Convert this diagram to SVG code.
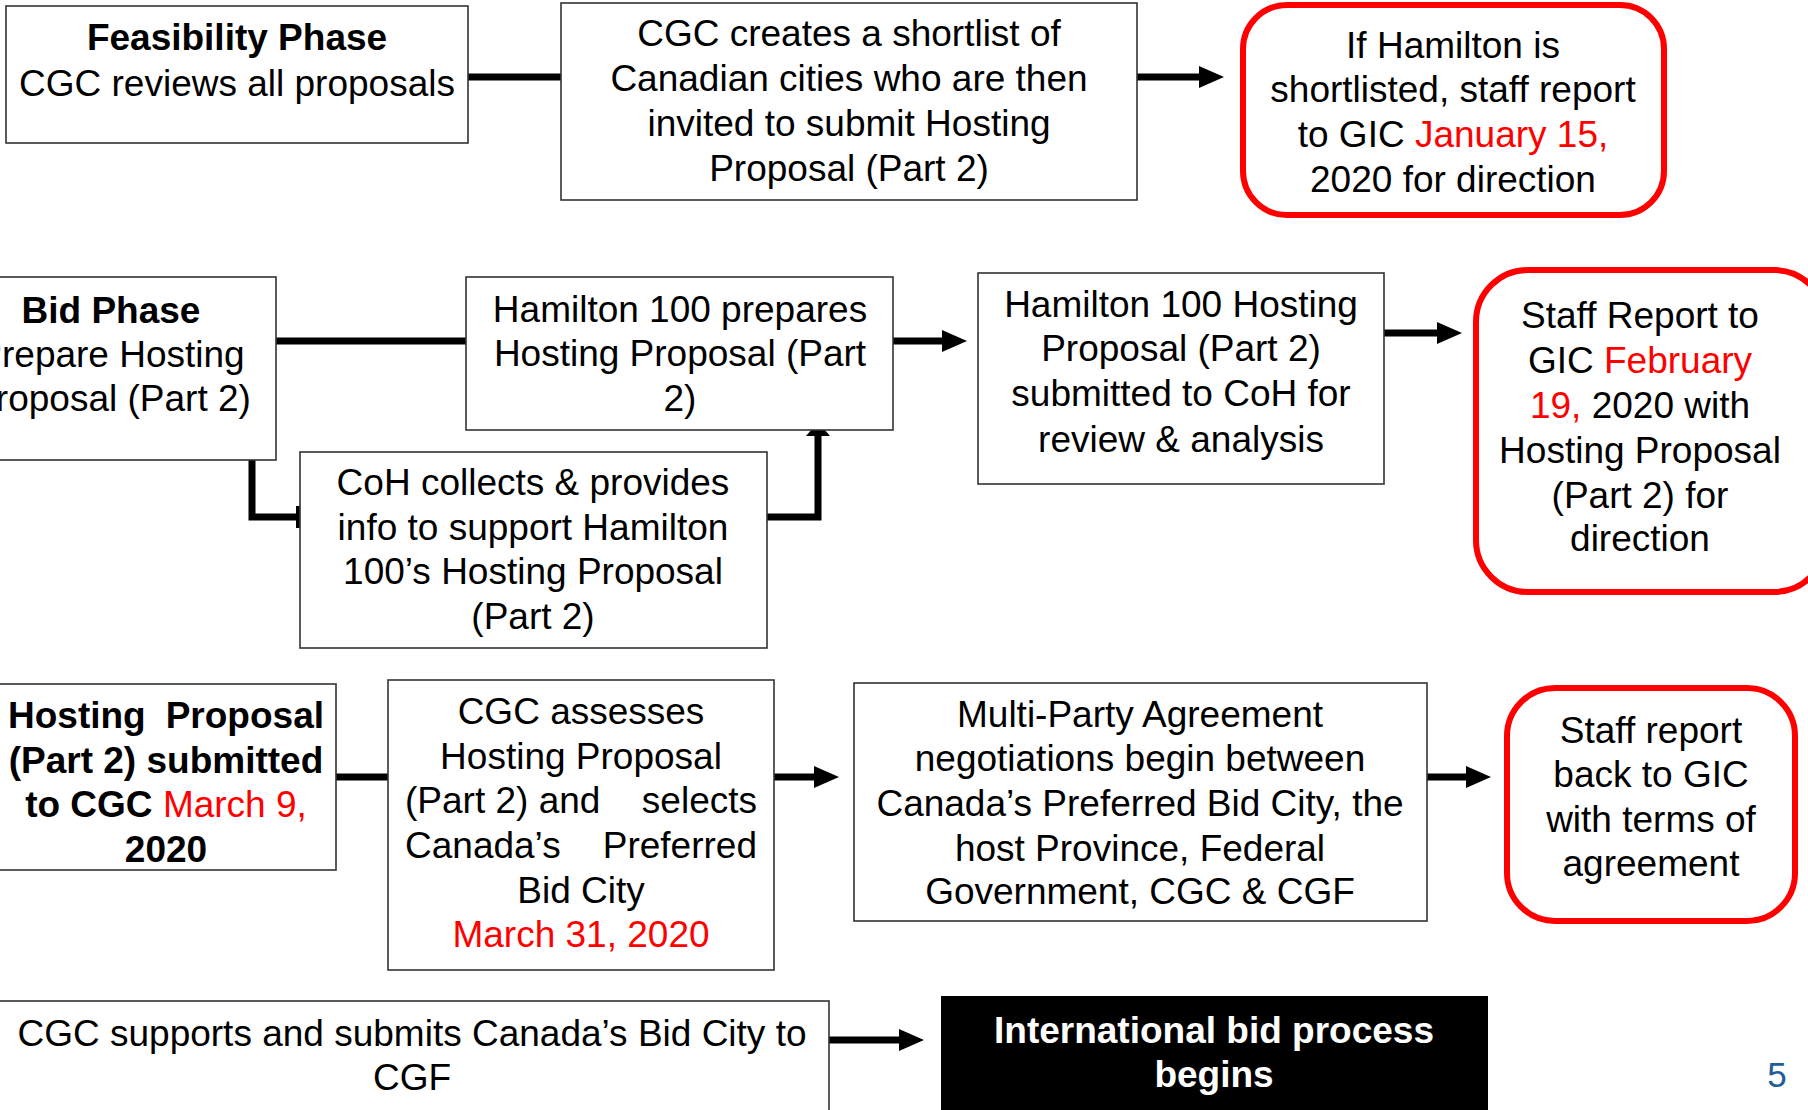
<svg xmlns="http://www.w3.org/2000/svg" width="1808" height="1110" viewBox="0 0 1808 1110">
<style>
.box{fill:#fff;stroke:#333;stroke-width:1.6}
.rbox{fill:#fff;stroke:#ff0000;stroke-width:6}
.blk{fill:#000;stroke:none}
text{font-family:"Liberation Sans",Arial,sans-serif;font-size:37px;fill:#000;text-anchor:middle}
.b{font-weight:bold}
.n{font-weight:normal}
.red{fill:#ff0000}
.w{fill:#fff}
.wire{fill:none;stroke:#000;stroke-width:7}
.stub{fill:#000}
</style>
<defs>
<marker id="ah" markerUnits="userSpaceOnUse" markerWidth="26" markerHeight="24" refX="1" refY="12" orient="auto">
<path d="M0,1 L25,12 L0,23 z" fill="#000"/>
</marker>
</defs>
<rect width="1808" height="1110" fill="#fff"/>

<g id="connectors">
<line class="wire" x1="468" y1="77" x2="561" y2="77"/>
<line class="wire" x1="1137" y1="77" x2="1200" y2="77" marker-end="url(#ah)"/>
<line class="wire" x1="276" y1="341" x2="466" y2="341"/>
<line class="wire" x1="893" y1="341" x2="943" y2="341" marker-end="url(#ah)"/>
<line class="wire" x1="1384" y1="333" x2="1438" y2="333" marker-end="url(#ah)"/>
<polyline class="wire" points="252,460 252,517 298,517"/>
<polygon class="stub" points="296,506 300,506 300,528 296,528"/>
<polyline class="wire" points="767,517 818,517 818,434"/>
<polygon class="stub" points="806,436 830,436 824,429 812,429"/>
<line class="wire" x1="336" y1="777" x2="388" y2="777"/>
<line class="wire" x1="774" y1="777" x2="815" y2="777" marker-end="url(#ah)"/>
<line class="wire" x1="1427" y1="777" x2="1467" y2="777" marker-end="url(#ah)"/>
<line class="wire" x1="829" y1="1040" x2="900" y2="1040" marker-end="url(#ah)"/>
</g>

<g id="feasibility">
<rect class="box" x="6" y="6" width="462" height="137"/>
<text class="b" x="237" y="50">Feasibility Phase</text>
<text x="237" y="96">CGC reviews all proposals</text>
</g>

<g id="shortlist">
<rect class="box" x="561" y="3" width="576" height="197"/>
<text x="849" y="46">CGC creates a shortlist of</text>
<text x="849" y="91">Canadian cities who are then</text>
<text x="849" y="136">invited to submit Hosting</text>
<text x="849" y="181">Proposal (Part 2)</text>
</g>

<g id="gic-jan">
<rect class="rbox" x="1243" y="5" width="421" height="210" rx="44"/>
<text x="1453" y="58">If Hamilton is</text>
<text x="1453" y="102">shortlisted, staff report</text>
<text x="1453" y="147">to GIC <tspan class="red">January 15,</tspan></text>
<text x="1453" y="192">2020 for direction</text>
</g>

<g id="bid-phase">
<rect class="box" x="-10" y="277" width="286" height="183"/>
<text class="b" x="111" y="323">Bid Phase</text>
<text x="111" y="367">Prepare Hosting</text>
<text x="111" y="411">Proposal (Part 2)</text>
</g>

<g id="h100-prepares">
<rect class="box" x="466" y="277" width="427" height="153"/>
<text x="680" y="322">Hamilton 100 prepares</text>
<text x="680" y="366">Hosting Proposal (Part</text>
<text x="680" y="411">2)</text>
</g>

<g id="h100-submitted">
<rect class="box" x="978" y="273" width="406" height="211"/>
<text x="1181" y="317">Hamilton 100 Hosting</text>
<text x="1181" y="361">Proposal (Part 2)</text>
<text x="1181" y="406">submitted to CoH for</text>
<text x="1181" y="452">review &amp; analysis</text>
</g>

<g id="gic-feb">
<rect class="rbox" x="1476" y="270" width="350" height="322" rx="52"/>
<text x="1640" y="328">Staff Report to</text>
<text x="1640" y="373">GIC <tspan class="red">February</tspan></text>
<text x="1640" y="418"><tspan class="red">19,</tspan> 2020 with</text>
<text x="1640" y="463">Hosting Proposal</text>
<text x="1640" y="508">(Part 2) for</text>
<text x="1640" y="551">direction</text>
</g>

<g id="coh-collects">
<rect class="box" x="300" y="452" width="467" height="196"/>
<text x="533" y="495">CoH collects &amp; provides</text>
<text x="533" y="540">info to support Hamilton</text>
<text x="533" y="584">100’s Hosting Proposal</text>
<text x="533" y="629">(Part 2)</text>
</g>

<g id="proposal-submitted">
<rect class="box" x="-10" y="684" width="346" height="186"/>
<text class="b" x="8" y="728" style="text-anchor:start">Hosting</text>
<text class="b" x="324" y="728" style="text-anchor:end">Proposal</text>
<text class="b" x="166" y="773">(Part 2) submitted</text>
<text class="b" x="166" y="817">to CGC <tspan class="red n">March 9,</tspan></text>
<text class="b" x="166" y="862">2020</text>
</g>

<g id="cgc-assesses">
<rect class="box" x="388" y="680" width="386" height="290"/>
<text x="581" y="724">CGC assesses</text>
<text x="581" y="769">Hosting Proposal</text>
<text x="405" y="813" style="text-anchor:start">(Part 2) and</text>
<text x="757" y="813" style="text-anchor:end">selects</text>
<text x="405" y="858" style="text-anchor:start">Canada’s</text>
<text x="757" y="858" style="text-anchor:end">Preferred</text>
<text x="581" y="903">Bid City</text>
<text class="red" x="581" y="947">March 31, 2020</text>
</g>

<g id="multi-party">
<rect class="box" x="854" y="683" width="573" height="238"/>
<text x="1140" y="727">Multi-Party Agreement</text>
<text x="1140" y="771">negotiations begin between</text>
<text x="1140" y="816">Canada’s Preferred Bid City, the</text>
<text x="1140" y="861">host Province, Federal</text>
<text x="1140" y="904">Government, CGC &amp; CGF</text>
</g>

<g id="gic-terms">
<rect class="rbox" x="1507" y="688" width="288" height="233" rx="48"/>
<text x="1651" y="743">Staff report</text>
<text x="1651" y="787">back to GIC</text>
<text x="1651" y="832">with terms of</text>
<text x="1651" y="876">agreement</text>
</g>

<g id="cgc-submits">
<rect class="box" x="-10" y="1001" width="839" height="120"/>
<text x="412" y="1046">CGC supports and submits Canada’s Bid City to</text>
<text x="412" y="1090">CGF</text>
</g>

<g id="international">
<rect class="blk" x="941" y="996" width="547" height="120"/>
<text class="b w" x="1214" y="1043">International bid process</text>
<text class="b w" x="1214" y="1087">begins</text>
</g>

<text x="1777" y="1087" style="font-size:35px;fill:#1f5f99">5</text>
</svg>
